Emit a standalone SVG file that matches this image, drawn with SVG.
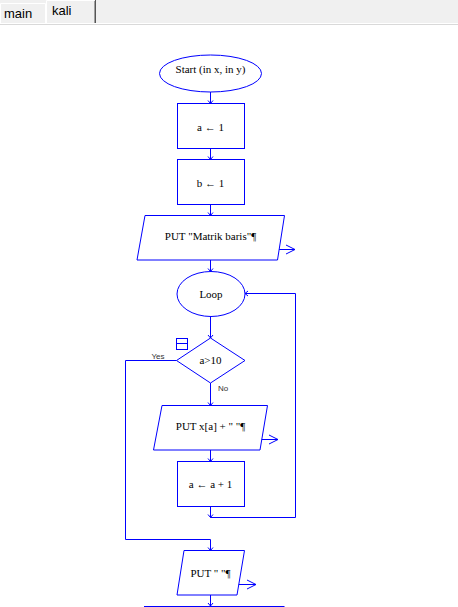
<svg xmlns="http://www.w3.org/2000/svg" width="458" height="607" viewBox="0 0 458 607">
<defs>
<style>
.sh{fill:#fff;stroke:#0000ff;stroke-width:1}
.ln{fill:none;stroke:#0000ff;stroke-width:1}
.t{font-family:"Liberation Serif","Times New Roman",serif;font-size:11px;fill:#000;text-anchor:middle}
.lb{font-family:"Liberation Sans",Arial,sans-serif;font-size:8px;fill:#333}
.tab{font-family:"Liberation Sans",Arial,sans-serif;font-size:13px;fill:#000}
</style>
<marker id="ah" viewBox="-4 -4 8 8" refX="0" refY="0" markerWidth="8" markerHeight="8" markerUnits="userSpaceOnUse" orient="auto">
<path d="M-3,-2.5 L0,0 L-3,2.5" fill="none" stroke="#0000ff" stroke-width="1"/>
</marker>
<marker id="out" viewBox="-10 -6 12 12" refX="0" refY="0" markerWidth="12" markerHeight="12" markerUnits="userSpaceOnUse" orient="auto">
<path d="M-9,-4.5 L0,0 L-9,4.5" fill="none" stroke="#0000ff" stroke-width="1"/>
</marker>
</defs>
<rect x="0" y="0" width="458" height="607" fill="#fff"/>
<g id="tabs">
<rect x="0" y="0" width="458" height="23" fill="#f0f0f0"/>
<line x1="0" y1="23.5" x2="458" y2="23.5" stroke="#ffffff"/>
<line x1="0" y1="24.5" x2="458" y2="24.5" stroke="#d9d9d9"/>
<path d="M0.5,23 V3.5 H45.5 V23" fill="#f0f0f0" stroke="#ffffff"/>
<path d="M46.5,23 V0.5 H94.5" fill="none" stroke="#ffffff"/>
<line x1="94.5" y1="1" x2="94.5" y2="23" stroke="#a0a0a0"/>
<line x1="95.5" y1="0" x2="95.5" y2="23" stroke="#555555"/>
<text class="tab" x="4" y="18">main</text>
<text class="tab" x="52" y="15">kali</text>
</g>
<g id="connectors">
<line class="ln" x1="210.5" y1="92" x2="210.5" y2="103.5" marker-end="url(#ah)"/>
<line class="ln" x1="210.5" y1="148.5" x2="210.5" y2="159.5" marker-end="url(#ah)"/>
<line class="ln" x1="210.5" y1="204.5" x2="210.5" y2="215.5" marker-end="url(#ah)"/>
<line class="ln" x1="210.5" y1="260" x2="210.5" y2="271.5" marker-end="url(#ah)"/>
<line class="ln" x1="210.5" y1="316.5" x2="210.5" y2="338" marker-end="url(#ah)"/>
<line class="ln" x1="210.5" y1="383" x2="210.5" y2="405.5" marker-end="url(#ah)"/>
<line class="ln" x1="210.5" y1="450" x2="210.5" y2="461.5" marker-end="url(#ah)"/>
<line class="ln" x1="210.5" y1="506.5" x2="210.5" y2="517.5" marker-end="url(#ah)"/>
<path class="ln" d="M210.5,517.5 H295.5 V293.5 H245" marker-end="url(#ah)"/>
<path class="ln" d="M176.5,360.5 H125.5 V539.5 H210.5 V550.5" marker-end="url(#ah)"/>
<line class="ln" x1="210.5" y1="595" x2="210.5" y2="606" marker-end="url(#ah)"/>
<line class="ln" x1="144" y1="606.5" x2="284.5" y2="606.5"/>
<line class="ln" x1="277" y1="249.5" x2="295" y2="249.5" marker-end="url(#out)"/>
<line class="ln" x1="260" y1="439.5" x2="278" y2="439.5" marker-end="url(#out)"/>
<line class="ln" x1="237" y1="584.5" x2="256" y2="584.5" marker-end="url(#out)"/>
<text class="lb" x="151.5" y="358.5">Yes</text>
<text class="lb" x="218" y="391">No</text>
</g>
<g id="start">
<ellipse class="sh" cx="210.5" cy="73.5" rx="51" ry="18.5"/>
<text class="t" x="210.5" y="72.5">Start (in x, in y)</text>
</g>
<g id="assign_a">
<rect class="sh" x="177.5" y="103.5" width="67" height="45"/>
<text class="t" x="210.5" y="130.5">a ← 1</text>
</g>
<g id="assign_b">
<rect class="sh" x="177.5" y="159.5" width="67" height="45"/>
<text class="t" x="210.5" y="186.5">b ← 1</text>
</g>
<g id="put_matrik">
<polygon class="sh" points="145,215.5 284.5,215.5 277.5,260 137,260"/>
<text class="t" x="210.5" y="240">PUT "Matrik baris"¶</text>
</g>
<g id="loop">
<ellipse class="sh" cx="211" cy="294" rx="34" ry="22.5"/>
<text class="t" x="211" y="297.5">Loop</text>
</g>
<g id="decision">
<polygon class="sh" points="210.5,338 245,360.5 210.5,383 176.5,360.5"/>
<text class="t" x="210.5" y="364.3">a&gt;10</text>
<rect class="ln" x="176.5" y="338.5" width="11" height="11"/>
<line class="ln" x1="176.5" y1="343.5" x2="187.5" y2="343.5"/>
</g>
<g id="put_x">
<polygon class="sh" points="162,405.5 267.5,405.5 260,450 153.5,450"/>
<text class="t" x="210.5" y="429.5">PUT x[a] + " "¶</text>
</g>
<g id="inc_a">
<rect class="sh" x="177.5" y="461.5" width="67" height="45"/>
<text class="t" x="210.5" y="488">a ← a + 1</text>
</g>
<g id="put_space">
<polygon class="sh" points="184,550.5 244.5,550.5 237,595 177,595"/>
<text class="t" x="210.5" y="576.5">PUT " "¶</text>
</g>
</svg>
